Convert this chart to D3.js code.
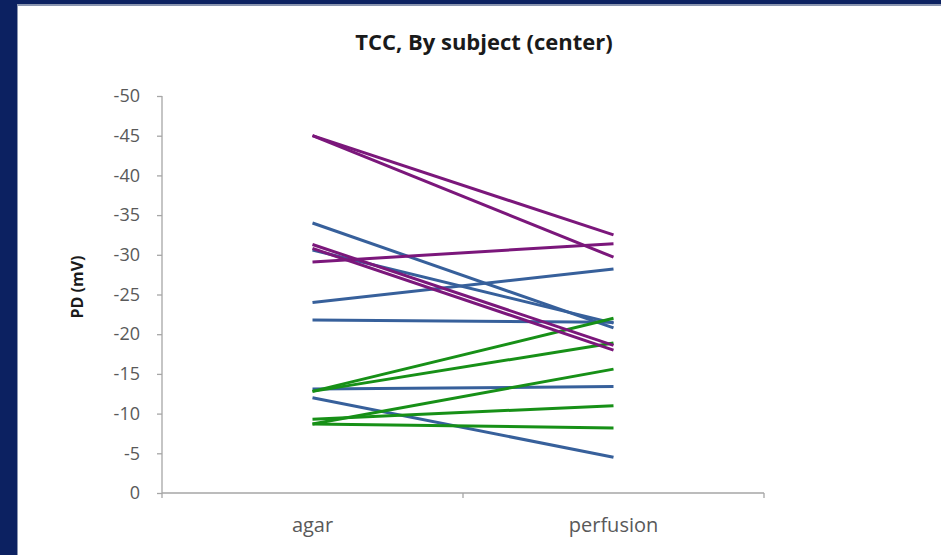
<!DOCTYPE html>
<html>
<head>
<meta charset="utf-8">
<script src="https://cdn.jsdelivr.net/npm/d3@7"></script>
<style>
  body { margin: 0; background: #fff; }
  text { font-family: "Open Sans", Lato, sans-serif; }
</style>
</head>
<body>
<div id="plot"></div>
<script>
// chart data
const categories = ["agar", "perfusion"];
const yTicks = [0, -5, -10, -15, -20, -25, -30, -35, -40, -45, -50];
const purpleSubjects = [[-45, -32.5], [-45, -29.7], [-29.1, -31.4], [-31.3, -18.6], [-30.8, -18.0]];
const blueSubjects = [[-34, -20.8], [-30.6, -21.4], [-24, -28.2], [-21.8, -21.5], [-13.1, -13.4], [-12.0, -4.5]];
const greenSubjects = [[-12.8, -22], [-12.8, -18.9], [-8.7, -15.6], [-9.3, -11], [-8.7, -8.2]];

const w = 941;
const h = 555;
const margin = {top: 96, right: 177, bottom: 62, left: 162};
const innerWidth = w - margin.left - margin.right;
const innerHeight = h - margin.top - margin.bottom;

const svg = d3.select("div#plot")
  .append("svg")
    .attr("width", w)
    .attr("height", h);

// slide border
svg.append("rect").attr("width", w).attr("height", h).attr("fill", "#0c2161");
svg.append("rect").attr("x", 17).attr("y", 4).attr("width", w - 17).attr("height", h - 4).attr("fill", "#8a95b0");
svg.append("rect").attr("x", 18).attr("y", 6).attr("width", w - 18).attr("height", h - 6).attr("fill", "#fff");

svg.append("text")
  .attr("x", 484)
  .attr("y", 50)
  .attr("text-anchor", "middle")
  .attr("font-size", 22)
  .attr("font-weight", "bold")
  .attr("fill", "#1a1a1a")
  .text("TCC, By subject (center)");

const plot = svg.append("g")
  .attr("transform", `translate (${margin.left}, ${margin.top})`);

const xScale = d3.scaleBand()
  .domain(categories)
  .range([0, innerWidth]);

const yScale = d3.scaleLinear()
  .domain([0, -50])
  .range([innerHeight, 0]);

const axisColor = "#a6a6a6";

// y axis
const yAxis = plot.append("g")
  .call(d3.axisLeft(yScale).tickValues(yTicks).tickSize(5).tickPadding(17).tickFormat(d => d));
yAxis.selectAll("path, line").attr("stroke", axisColor).attr("stroke-width", 1.3);
yAxis.select("path").attr("d", `M0,0V${innerHeight}`);
yAxis.selectAll("text").attr("font-size", 18).attr("fill", "#595959").attr("font-family", "'Open Sans', sans-serif");

// x axis
const xAxis = plot.append("g")
  .attr("transform", `translate (0, ${innerHeight})`)
  .call(d3.axisBottom(xScale).tickSize(0).tickPadding(25));
xAxis.select("path").attr("d", `M0,0H${innerWidth}`).attr("stroke", axisColor).attr("stroke-width", 1.3);
xAxis.selectAll("text").attr("font-size", 20).attr("fill", "#595959").attr("font-family", "'Open Sans', sans-serif");
plot.append("g")
  .selectAll("line")
  .data([0, innerWidth / 2, innerWidth])
  .enter()
  .append("line")
    .attr("x1", d => d).attr("x2", d => d)
    .attr("y1", innerHeight).attr("y2", innerHeight + 5)
    .attr("stroke", axisColor).attr("stroke-width", 1.3);

// y label
svg.append("text")
  .attr("transform", "translate(83, 287) rotate(-90)")
  .attr("text-anchor", "middle")
  .attr("font-size", 16)
  .attr("font-weight", "bold")
  .attr("fill", "#1a1a1a")
  .text("PD (mV)");

const line = d3.line()
  .x((d, i) => xScale(categories[i]) + xScale.bandwidth() / 2)
  .y(d => yScale(d));

const groups = [
  {data: blueSubjects, color: "#37609b"},
  {data: greenSubjects, color: "#179017"},
  {data: purpleSubjects, color: "#7b177b"}
];

groups.forEach(g => {
  plot.append("g")
    .selectAll("path")
    .data(g.data)
    .enter()
    .append("path")
      .attr("d", line)
      .attr("fill", "none")
      .attr("stroke", g.color)
      .attr("stroke-width", 3);
});
</script>
</body>
</html>
